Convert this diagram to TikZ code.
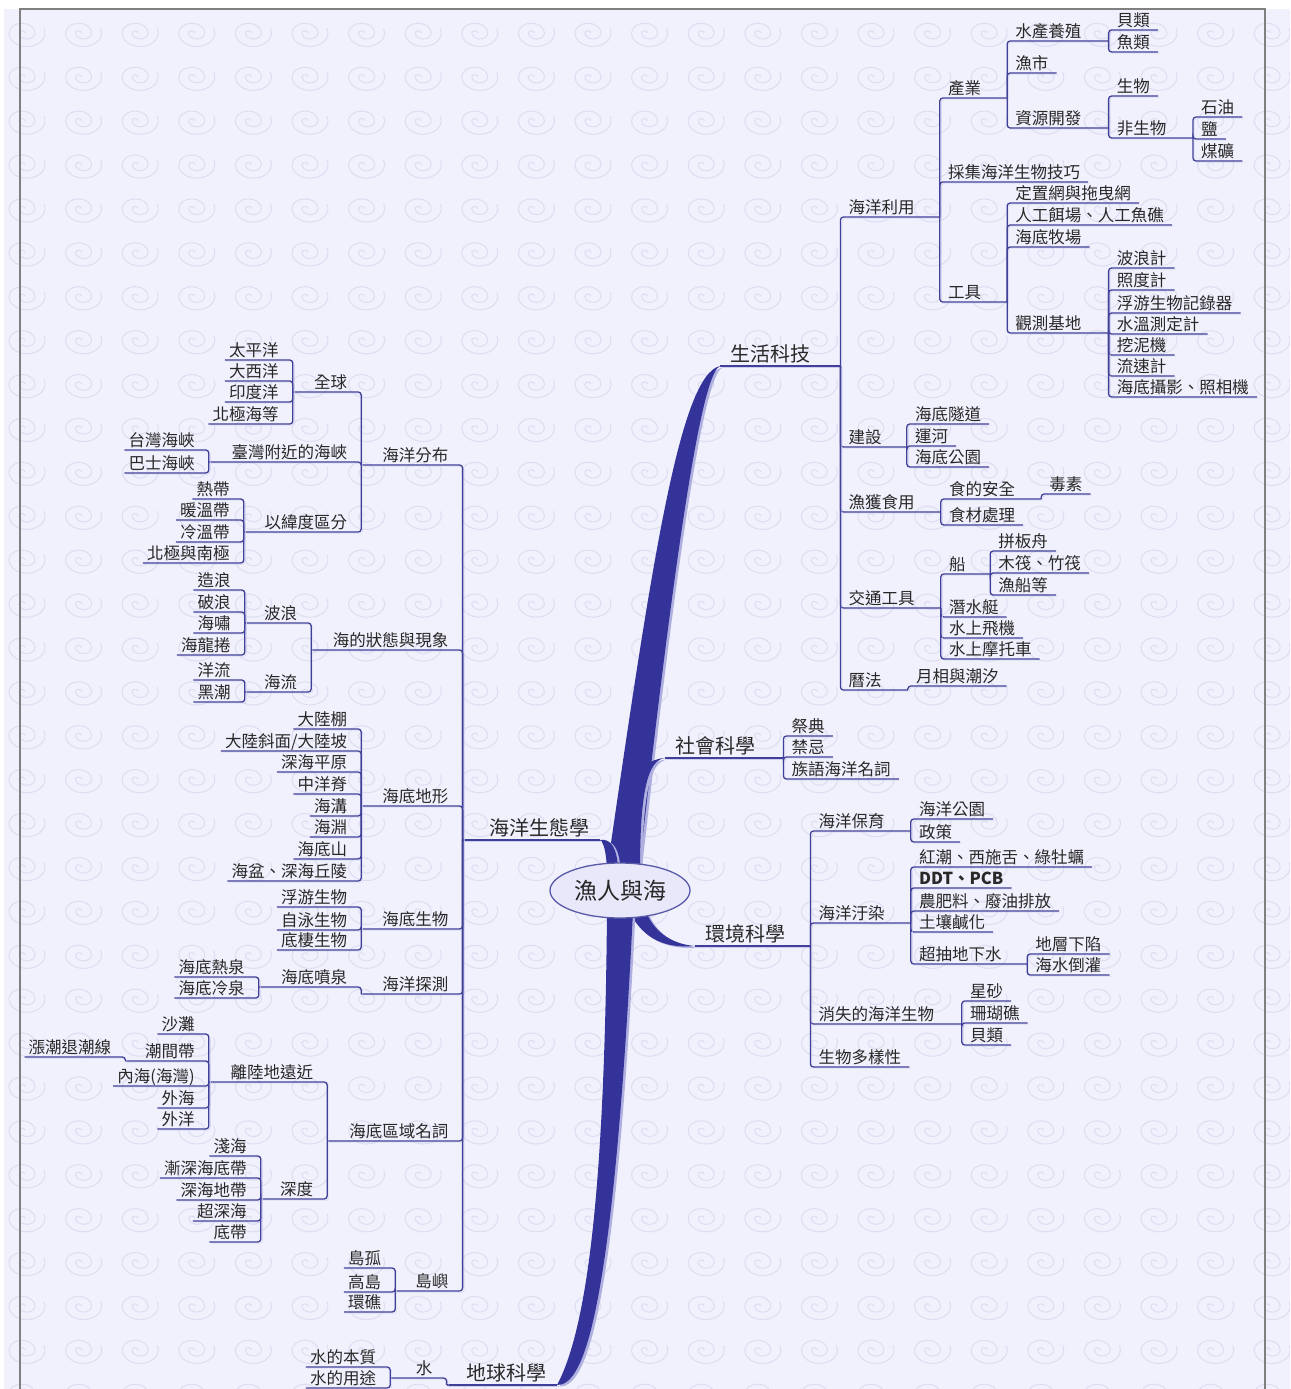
\documentclass[tikz,border=0pt]{standalone}
\usepackage{fontspec}
\setmainfont{Noto Sans CJK TC}
\usetikzlibrary{shapes.geometric,backgrounds}

\definecolor{paper}{RGB}{241,241,253}
\definecolor{swirl}{RGB}{222,222,243}
\definecolor{framegray}{RGB}{128,128,128}
\definecolor{bandblue}{RGB}{51,51,153}
\definecolor{bandshade}{RGB}{176,176,224}
\definecolor{linkblue}{RGB}{64,64,152}
\definecolor{linkshade}{RGB}{205,205,238}
\definecolor{ink}{RGB}{40,40,40}
\definecolor{hubfill}{RGB}{232,232,250}
\definecolor{hubline}{RGB}{90,90,168}

\newcommand\leaffont{\fontsize{16.5}{18}\selectfont}
\newcommand\branchfont{\fontsize{20}{22}\selectfont}
\newcommand\hubfont{\fontsize{23}{25}\selectfont}

\tikzset{
  topic/.style={anchor=south west,font=\leaffont,text=ink,inner xsep=8pt,inner ysep=1pt,
    text height=13pt,text depth=2pt,align=left},
  ltopic/.style={topic,anchor=south east,xshift=-10pt,inner xsep=4pt,align=right},
  tw/.style={text width=#1pt},
  branch/.style={topic,font=\branchfont,inner xsep=10pt,text height=16pt,text depth=3pt,
    text width=#1pt},
  lbranch/.style={branch=#1,anchor=south east,align=right},
  hub/.style={ellipse,draw=hubline,fill=hubfill,line width=1.3pt,minimum width=140pt,
    minimum height=55pt,inner sep=0pt,font=\hubfont,text=ink},
  link/.style={draw=linkblue,line width=1.3pt,rounded corners=3pt,
    preaction={draw=linkshade,transform canvas={shift={(1.5pt,-1.5pt)}}}},
  band/.style={fill=bandblue,preaction={fill=bandshade,transform canvas={shift={(2.5pt,-1.5pt)}}}},
  swirlpic/.pic={\draw[swirl,line width=1.1pt,yscale=-1] (3,0)
    arc[start angle=0,end angle=180,x radius=3,y radius=2.25]
    arc[start angle=180,end angle=360,x radius=8,y radius=6]
    arc[start angle=0,end angle=180,x radius=13,y radius=9.75]
    arc[start angle=180,end angle=380,x radius=18,y radius=13.5];}
}

\begin{document}
\begin{tikzpicture}[x=1pt,y=-1pt]
  \useasboundingbox (0,0) rectangle (1290,1389);

  % paper and watermark
  \begin{scope}[on background layer]
    \clip (4,9) rectangle (1290,1389);
    \fill[paper] (4,9) rectangle (1290,1389);
    \foreach \i in {0,...,22} {\foreach \j in {0,...,31} {\pic at ({22+56.6*\i},{33+43.9*\j}) {swirlpic};}}
  \end{scope}
  \draw[framegray,line width=1.5pt] (20,1389) -- (20,9) -- (1265,9) -- (1265,1389);

  % centre
  \node[hub] (root) at (620,890.5) {漁人與海};

  % 生活科技
  \node[branch=100] (shkj) at (720,366) {生活科技};
  \node[topic,tw=83] (liyong) at (shkj.south east |- 0,217) {海洋利用};
  \node[topic,tw=51] (chanye) at (liyong.south east |- 0,98) {產業};
  \node[topic,tw=85] (yangzhi) at (chanye.south east |- 0,41) {水產養殖};
  \node[topic] (beilei) at (yangzhi.south east |- 0,30) {貝類};
  \node[topic] (yulei) at (yangzhi.south east |- 0,52) {魚類};
  \node[topic] (yushi) at (chanye.south east |- 0,73) {漁市};
  \node[topic,tw=85] (ziyuan) at (chanye.south east |- 0,128) {資源開發};
  \node[topic] (shengwu) at (ziyuan.south east |- 0,96) {生物};
  \node[topic,tw=68] (feisw) at (ziyuan.south east |- 0,138) {非生物};
  \node[topic] (shiyou) at (feisw.south east |- 0,117) {石油};
  \node[topic] (yan) at (feisw.south east |- 0,139) {鹽};
  \node[topic] (meikuang) at (feisw.south east |- 0,161) {煤礦};
  \node[topic] (caiji) at (liyong.south east |- 0,182) {採集海洋生物技巧};
  \node[topic,tw=51] (gongju) at (liyong.south east |- 0,302) {工具};
  \node[topic] (dingzhi) at (gongju.south east |- 0,203) {定置網與拖曳網};
  \node[topic] (rengong) at (gongju.south east |- 0,225) {人工餌場、人工魚礁};
  \node[topic] (muchang) at (gongju.south east |- 0,247) {海底牧場};
  \node[topic,tw=85] (guance) at (gongju.south east |- 0,333) {觀測基地};
  \node[topic] (bolangji) at (guance.south east |- 0,268) {波浪計};
  \node[topic] (zhaodu) at (guance.south east |- 0,290) {照度計};
  \node[topic] (fuyouji) at (guance.south east |- 0,313) {浮游生物記錄器};
  \node[topic] (shuiwen) at (guance.south east |- 0,334) {水溫測定計};
  \node[topic] (wani) at (guance.south east |- 0,355) {挖泥機};
  \node[topic] (liusu) at (guance.south east |- 0,376) {流速計};
  \node[topic] (sheying) at (guance.south east |- 0,397) {海底攝影、照相機};
  \node[topic,tw=50] (jianshe) at (shkj.south east |- 0,447) {建設};
  \node[topic] (suidao) at (jianshe.south east |- 0,424) {海底隧道};
  \node[topic] (yunhe) at (jianshe.south east |- 0,446) {運河};
  \node[topic] (gongyuan) at (jianshe.south east |- 0,467) {海底公園};
  \node[topic,tw=84] (yuhuo) at (shkj.south east |- 0,512) {漁獲食用};
  \node[topic,tw=84] (anquan) at (yuhuo.south east |- 0,499) {食的安全};
  \node[topic] (dusu) at (anquan.south east |- 0,494) {毒素};
  \node[topic] (shicai) at (yuhuo.south east |- 0,525) {食材處理};
  \node[topic,tw=84] (jiaotong) at (shkj.south east |- 0,608) {交通工具};
  \node[topic,tw=33] (chuan) at (jiaotong.south east |- 0,574) {船};
  \node[topic] (pinban) at (chuan.south east |- 0,551) {拼板舟};
  \node[topic] (mufa) at (chuan.south east |- 0,573) {木筏、竹筏};
  \node[topic] (yuchuan) at (chuan.south east |- 0,595) {漁船等};
  \node[topic] (qianshui) at (jiaotong.south east |- 0,617) {潛水艇};
  \node[topic] (feiji) at (jiaotong.south east |- 0,638) {水上飛機};
  \node[topic] (motuo) at (jiaotong.south east |- 0,659) {水上摩托車};
  \node[topic,tw=51] (lifa) at (shkj.south east |- 0,690) {曆法};
  \node[topic] (yuexiang) at (lifa.south east |- 0,686) {月相與潮汐};

  % 社會科學
  \node[branch=98] (shehui) at (665,758) {社會科學};
  \node[topic] (jidian) at (shehui.south east |- 0,736) {祭典};
  \node[topic] (jinji) at (shehui.south east |- 0,757) {禁忌};
  \node[topic] (zuyu) at (shehui.south east |- 0,779) {族語海洋名詞};

  % 環境科學
  \node[branch=95] (huanjing) at (695,946) {環境科學};
  \node[topic,tw=84] (baoyu) at (huanjing.south east |- 0,831) {海洋保育};
  \node[topic] (hygy) at (baoyu.south east |- 0,819) {海洋公園};
  \node[topic] (zhengce) at (baoyu.south east |- 0,842) {政策};
  \node[topic,tw=84] (wuran) at (huanjing.south east |- 0,923) {海洋汙染};
  \node[topic] (hongchao) at (wuran.south east |- 0,867) {紅潮、西施舌、綠牡蠣};
  \node[topic] (ddt) at (wuran.south east |- 0,888) {\bfseries DDT、PCB};
  \node[topic] (feiliao) at (wuran.south east |- 0,911) {農肥料、廢油排放};
  \node[topic] (turang) at (wuran.south east |- 0,932) {土壤鹹化};
  \node[topic,tw=100] (chaochou) at (wuran.south east |- 0,964) {超抽地下水};
  \node[topic] (xianxian) at (chaochou.south east |- 0,954) {地層下陷};
  \node[topic] (daoguan) at (chaochou.south east |- 0,975) {海水倒灌};
  \node[topic,tw=135] (xiaoshi) at (huanjing.south east |- 0,1024) {消失的海洋生物};
  \node[topic] (xingsha) at (xiaoshi.south east |- 0,1001) {星砂};
  \node[topic] (shanhu) at (xiaoshi.south east |- 0,1023) {珊瑚礁};
  \node[topic] (beilei2) at (xiaoshi.south east |- 0,1045) {貝類};
  \node[topic] (duoyang) at (huanjing.south east |- 0,1067) {生物多樣性};

  % 海洋生態學
  \node[lbranch=117] (shengtai) at (600,840) {海洋生態學};
  \node[ltopic,tw=83] (fenbu) at (shengtai.south west |- 0,465) {海洋分布};
  \node[ltopic,tw=50] (quanqiu) at (fenbu.south west |- 0,392) {全球};
  \node[ltopic] (taiping) at (quanqiu.south west |- 0,360) {太平洋};
  \node[ltopic] (daxi) at (quanqiu.south west |- 0,381) {大西洋};
  \node[ltopic] (yindu) at (quanqiu.south west |- 0,402) {印度洋};
  \node[ltopic] (beiji) at (quanqiu.south west |- 0,424) {北極海等};
  \node[ltopic,tw=134] (haixia) at (fenbu.south west |- 0,462) {臺灣附近的海峽};
  \node[ltopic] (taiwan) at (haixia.south west |- 0,450) {台灣海峽};
  \node[ltopic] (bashi) at (haixia.south west |- 0,473) {巴士海峽};
  \node[ltopic,tw=99] (weidu) at (fenbu.south west |- 0,532) {以緯度區分};
  \node[ltopic] (redai) at (weidu.south west |- 0,499) {熱帶};
  \node[ltopic] (nuanwen) at (weidu.south west |- 0,520) {暖溫帶};
  \node[ltopic] (lengwen) at (weidu.south west |- 0,542) {冷溫帶};
  \node[ltopic] (jidi) at (weidu.south west |- 0,563) {北極與南極};
  \node[ltopic,tw=133] (zhuangtai) at (shengtai.south west |- 0,650) {海的狀態與現象};
  \node[ltopic,tw=48] (bolang) at (zhuangtai.south west |- 0,623) {波浪};
  \node[ltopic] (zaolang) at (bolang.south west |- 0,590) {造浪};
  \node[ltopic] (polang) at (bolang.south west |- 0,612) {破浪};
  \node[ltopic] (haixiao) at (bolang.south west |- 0,633) {海嘯};
  \node[ltopic] (longjuan) at (bolang.south west |- 0,655) {海龍捲};
  \node[ltopic,tw=48] (hailiu) at (zhuangtai.south west |- 0,692) {海流};
  \node[ltopic] (yangliu) at (hailiu.south west |- 0,680) {洋流};
  \node[ltopic] (heichao) at (hailiu.south west |- 0,702) {黑潮};
  \node[ltopic,tw=83] (dixing) at (shengtai.south west |- 0,806) {海底地形};
  \node[ltopic] (dalupeng) at (dixing.south west |- 0,729) {大陸棚};
  \node[ltopic] (xiemian) at (dixing.south west |- 0,751) {大陸斜面/大陸坡};
  \node[ltopic] (pingyuan) at (dixing.south west |- 0,772) {深海平原};
  \node[ltopic] (haiji) at (dixing.south west |- 0,794) {中洋脊};
  \node[ltopic] (haigou) at (dixing.south west |- 0,816) {海溝};
  \node[ltopic] (haiyuan) at (dixing.south west |- 0,837) {海淵};
  \node[ltopic] (haidishan) at (dixing.south west |- 0,859) {海底山};
  \node[ltopic] (haipen) at (dixing.south west |- 0,881) {海盆、深海丘陵};
  \node[ltopic,tw=83] (haidisw) at (shengtai.south west |- 0,929) {海底生物};
  \node[ltopic] (fuyou) at (haidisw.south west |- 0,907) {浮游生物};
  \node[ltopic] (ziyong) at (haidisw.south west |- 0,930) {自泳生物};
  \node[ltopic] (diqi) at (haidisw.south west |- 0,950) {底棲生物};
  \node[ltopic,tw=83] (tance) at (shengtai.south west |- 0,994) {海洋探測};
  \node[ltopic,tw=84] (penquan) at (tance.south west |- 0,987) {海底噴泉};
  \node[ltopic] (requan) at (penquan.south west |- 0,977) {海底熱泉};
  \node[ltopic] (lengquan) at (penquan.south west |- 0,998) {海底冷泉};
  \node[ltopic,tw=117] (quyu) at (shengtai.south west |- 0,1141) {海底區域名詞};
  \node[ltopic,tw=100] (yuanjin) at (quyu.south west |- 0,1082) {離陸地遠近};
  \node[ltopic] (shatan) at (yuanjin.south west |- 0,1034) {沙灘};
  \node[ltopic,tw=65] (chaojian) at (yuanjin.south west |- 0,1061) {潮間帶};
  \node[ltopic] (zhangchao) at (chaojian.south west |- 0,1057) {漲潮退潮線};
  \node[ltopic] (neihai) at (yuanjin.south west |- 0,1086) {內海(海灣)};
  \node[ltopic] (waihai) at (yuanjin.south west |- 0,1108) {外海};
  \node[ltopic] (waiyang) at (yuanjin.south west |- 0,1129) {外洋};
  \node[ltopic,tw=48] (shendu) at (quyu.south west |- 0,1199) {深度};
  \node[ltopic] (qianhai) at (shendu.south west |- 0,1156) {淺海};
  \node[ltopic] (jianshen) at (shendu.south west |- 0,1178) {漸深海底帶};
  \node[ltopic] (shenhai) at (shendu.south west |- 0,1200) {深海地帶};
  \node[ltopic] (chaoshen) at (shendu.south west |- 0,1221) {超深海};
  \node[ltopic] (didai) at (shendu.south west |- 0,1242) {底帶};
  \node[ltopic,tw=49] (daoyu) at (shengtai.south west |- 0,1291) {島嶼};
  \node[ltopic] (daogu) at (daoyu.south west |- 0,1268) {島孤};
  \node[ltopic] (gaodao) at (daoyu.south west |- 0,1292) {高島};
  \node[ltopic] (huanjiao) at (daoyu.south west |- 0,1312) {環礁};

  % 地球科學
  \node[lbranch=90] (diqiu) at (557,1385) {地球科學};
  \node[ltopic,tw=38] (shui) at (diqiu.south west |- 0,1378) {水};
  \node[ltopic] (benzhi) at (shui.south west |- 0,1367) {水的本質};
  \node[ltopic] (yongtu) at (shui.south west |- 0,1388) {水的用途};

  % underlines of the main branches
  \draw[link] (shkj.south west) -- (shkj.south east);
  \draw[link] (shehui.south west) -- (shehui.south east);
  \draw[link] (huanjing.south west) -- (huanjing.south east);
  \draw[link] (shengtai.south east) -- (shengtai.south west);
  \draw[link] (diqiu.south east) -- (diqiu.south west);

  % right hand links
  \foreach \c in {liyong,jianshe,yuhuo,jiaotong,lifa} \draw[link] (shkj.south east) |- (\c.south east);
  \foreach \c in {chanye,caiji,gongju} \draw[link] (liyong.south east) |- (\c.south east);
  \foreach \c in {yangzhi,yushi,ziyuan} \draw[link] (chanye.south east) |- (\c.south east);
  \foreach \c in {beilei,yulei} \draw[link] (yangzhi.south east) |- (\c.south east);
  \foreach \c in {shengwu,feisw} \draw[link] (ziyuan.south east) |- (\c.south east);
  \foreach \c in {shiyou,yan,meikuang} \draw[link] (feisw.south east) |- (\c.south east);
  \foreach \c in {dingzhi,rengong,muchang,guance} \draw[link] (gongju.south east) |- (\c.south east);
  \foreach \c in {bolangji,zhaodu,fuyouji,shuiwen,wani,liusu,sheying} \draw[link] (guance.south east) |- (\c.south east);
  \foreach \c in {suidao,yunhe,gongyuan} \draw[link] (jianshe.south east) |- (\c.south east);
  \foreach \c in {anquan,shicai} \draw[link] (yuhuo.south east) |- (\c.south east);
  \draw[link] (anquan.south east) |- (dusu.south east);
  \foreach \c in {chuan,qianshui,feiji,motuo} \draw[link] (jiaotong.south east) |- (\c.south east);
  \foreach \c in {pinban,mufa,yuchuan} \draw[link] (chuan.south east) |- (\c.south east);
  \draw[link] (lifa.south east) |- (yuexiang.south east);
  \foreach \c in {jidian,jinji,zuyu} \draw[link] (shehui.south east) |- (\c.south east);
  \foreach \c in {baoyu,wuran,xiaoshi,duoyang} \draw[link] (huanjing.south east) |- (\c.south east);
  \foreach \c in {hygy,zhengce} \draw[link] (baoyu.south east) |- (\c.south east);
  \foreach \c in {hongchao,ddt,feiliao,turang,chaochou} \draw[link] (wuran.south east) |- (\c.south east);
  \foreach \c in {xianxian,daoguan} \draw[link] (chaochou.south east) |- (\c.south east);
  \foreach \c in {xingsha,shanhu,beilei2} \draw[link] (xiaoshi.south east) |- (\c.south east);

  % left hand links
  \foreach \c in {fenbu,zhuangtai,dixing,haidisw,tance,quyu,daoyu} \draw[link] (shengtai.south west) |- (\c.south west);
  \foreach \c in {quanqiu,haixia,weidu} \draw[link] (fenbu.south west) |- (\c.south west);
  \foreach \c in {taiping,daxi,yindu,beiji} \draw[link] (quanqiu.south west) |- (\c.south west);
  \foreach \c in {taiwan,bashi} \draw[link] (haixia.south west) |- (\c.south west);
  \foreach \c in {redai,nuanwen,lengwen,jidi} \draw[link] (weidu.south west) |- (\c.south west);
  \foreach \c in {bolang,hailiu} \draw[link] (zhuangtai.south west) |- (\c.south west);
  \foreach \c in {zaolang,polang,haixiao,longjuan} \draw[link] (bolang.south west) |- (\c.south west);
  \foreach \c in {yangliu,heichao} \draw[link] (hailiu.south west) |- (\c.south west);
  \foreach \c in {dalupeng,xiemian,pingyuan,haiji,haigou,haiyuan,haidishan,haipen} \draw[link] (dixing.south west) |- (\c.south west);
  \foreach \c in {fuyou,ziyong,diqi} \draw[link] (haidisw.south west) |- (\c.south west);
  \draw[link] (tance.south west) |- (penquan.south west);
  \foreach \c in {requan,lengquan} \draw[link] (penquan.south west) |- (\c.south west);
  \foreach \c in {yuanjin,shendu} \draw[link] (quyu.south west) |- (\c.south west);
  \foreach \c in {shatan,chaojian,neihai,waihai,waiyang} \draw[link] (yuanjin.south west) |- (\c.south west);
  \draw[link] (chaojian.south west) |- (zhangchao.south west);
  \foreach \c in {qianhai,jianshen,shenhai,chaoshen,didai} \draw[link] (shendu.south west) |- (\c.south west);
  \foreach \c in {daogu,gaodao,huanjiao} \draw[link] (daoyu.south west) |- (\c.south west);
  \draw[link] (diqiu.south west) |- (shui.south west);
  \foreach \c in {benzhi,yongtu} \draw[link] (shui.south west) |- (\c.south west);

  % thick branches out of the centre
  \begin{scope}[on background layer]
    \fill[band] ([xshift=-13pt,yshift=-8pt]root.north) .. controls (652,560) and (680,375) .. (shkj.south west)
      .. controls (706,372) and (684,470) .. ([xshift=19pt,yshift=-8pt]root.north) -- cycle;
    \fill[band] ([xshift=-6pt,yshift=-8pt]root.north) .. controls (620,800) and (632,760) .. (shehui.south west)
      .. controls (648,760) and (640,790) .. ([xshift=20pt,yshift=-8pt]root.north) -- cycle;
    \fill[band] (shengtai.south east) .. controls (612,838) and (617,850) .. ([xshift=-2pt,yshift=-6pt]root.north)
      -- ([xshift=-13pt,yshift=-6pt]root.north) .. controls (606,852) and (604,843) .. (shengtai.south east) -- cycle;
    \fill[band] ([xshift=25pt,yshift=10pt]root.south) .. controls (652,930) and (670,944) .. (huanjing.south west)
      .. controls (660,949) and (640,935) .. ([xshift=8pt,yshift=10pt]root.south) -- cycle;
    \fill[band] ([xshift=-13pt,yshift=8pt]root.south) .. controls (605,1150) and (592,1320) .. (diqiu.south east)
      .. controls (580,1385) and (612,1340) .. ([xshift=13pt,yshift=8pt]root.south) -- cycle;
  \end{scope}
\end{tikzpicture}
\end{document}
